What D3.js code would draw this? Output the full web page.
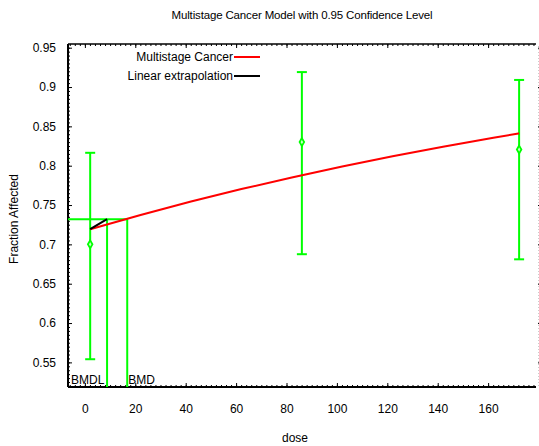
<!DOCTYPE html>
<html>
<head>
<meta charset="utf-8">
<script src="https://cdn.jsdelivr.net/npm/d3@7"></script>
<style>
  html, body { margin: 0; padding: 0; background: #fff; }
  svg { display: block; font-family: "Liberation Sans", Arial, sans-serif; }
</style>
</head>
<body>
<svg id="chart" width="539" height="446"></svg>
<script>
// Observed dose groups: mean fraction affected and 95% confidence bounds
const doses = [2.1, 86.1, 172.3];
const meanResponse = [0.70, 0.83, 0.8205];
const lowerCI = [0.554, 0.6875, 0.681];
const upperCI = [0.8164, 0.919, 0.909];

// Fitted multistage cancer curve, sampled along the dose axis
const curveDose = [2.1, 22.1, 42.1, 62.1, 82.1, 102.1, 122.1, 142.1, 162.1, 172.3];
const curveResponse = [0.7193, 0.7374, 0.7544, 0.7703, 0.7851, 0.7990, 0.8120, 0.8241, 0.8355, 0.841];

// Benchmark dose results
const bmr = 0.732;
const bmd = 16.8;
const bmdl = 8.8;
const linearDose = [2.1, 8.8];
const linearResponse = [0.7193, 0.732];

// Axis ticks
const xTicks = [0, 20, 40, 60, 80, 100, 120, 140, 160];
const yTicks = [0.55, 0.6, 0.65, 0.7, 0.75, 0.8, 0.85, 0.9, 0.95];

const legendLabels = ["Multistage Cancer", "Linear extrapolation"];
const legendColors = ["#ff0000", "#000000"];

const GREEN = "#00ff00";

const svg = d3.select("#chart");
const plotLeft = 68, plotRight = 536, plotTop = 44, plotBottom = 387;

const x = d3.scaleLinear().domain([-6.7, 179]).range([plotLeft, plotRight]);
const y = d3.scaleLinear().domain([0.5187, 0.9547]).range([plotBottom, plotTop]);

// Minor ticks on the frame
const xMinor = d3.range(-6, 179, 2);
const yMinor = d3.range(0.52, 0.955, 0.005);

function minorAxis(axis, ticks, transform) {
  svg.append("g").attr("transform", transform)
    .call(axis.tickValues(ticks).tickSize(-2).tickFormat(""))
    .call(g => g.select(".domain").remove())
    .call(g => g.selectAll("line").attr("stroke", "#000").attr("stroke-width", 1));
}
minorAxis(d3.axisBottom(x), xMinor, `translate(0,${plotBottom})`);
minorAxis(d3.axisTop(x), xMinor, `translate(0,${plotTop})`);
minorAxis(d3.axisLeft(y), yMinor, `translate(${plotLeft},0)`);

// Major axes
svg.append("g").attr("transform", `translate(0,${plotBottom})`)
  .call(d3.axisBottom(x).tickValues(xTicks).tickSize(-4).tickPadding(17).tickFormat(d3.format("d")))
  .call(g => g.select(".domain").remove())
  .call(g => g.selectAll("text").attr("font-size", 12).attr("fill", "#000")
    .attr("font-family", "Liberation Sans, Arial, sans-serif"));

svg.append("g").attr("transform", `translate(0,${plotTop})`)
  .call(d3.axisTop(x).tickValues(xTicks).tickSize(-4).tickFormat(""))
  .call(g => g.select(".domain").remove());

svg.append("g").attr("transform", `translate(${plotLeft},0)`)
  .call(d3.axisLeft(y).tickValues(yTicks).tickSize(-4).tickPadding(12).tickFormat(d => d3.format("")(+d.toFixed(2))))
  .call(g => g.select(".domain").remove())
  .call(g => g.selectAll("text").attr("font-size", 12).attr("fill", "#000")
    .attr("font-family", "Liberation Sans, Arial, sans-serif"));

// Right axis, mostly beyond the visible edge
svg.append("g").attr("transform", `translate(538,0)`)
  .call(d3.axisRight(y).tickValues(yTicks).tickSize(2).tickFormat(""))
  .call(g => g.select(".domain").attr("stroke", "#ccc").attr("stroke-dasharray", "1,2"));

// Frame
svg.append("line").attr("x1", plotLeft).attr("x2", plotRight).attr("y1", plotTop).attr("y2", plotTop)
  .attr("stroke", "#000").attr("stroke-width", 1.5);
svg.append("line").attr("x1", plotLeft).attr("x2", plotRight).attr("y1", plotBottom).attr("y2", plotBottom)
  .attr("stroke", "#000").attr("stroke-width", 2);
svg.append("line").attr("x1", plotLeft).attr("x2", plotLeft).attr("y1", plotTop).attr("y2", plotBottom)
  .attr("stroke", "#000").attr("stroke-width", 2);

// Benchmark dose guide lines
const guides = svg.append("g").attr("stroke", GREEN).attr("stroke-width", 2).attr("fill", "none");
guides.append("line").attr("x1", plotLeft).attr("x2", x(bmd)).attr("y1", y(bmr)).attr("y2", y(bmr));
guides.append("line").attr("x1", x(bmdl)).attr("x2", x(bmdl)).attr("y1", y(bmr)).attr("y2", plotBottom);
guides.append("line").attr("x1", x(bmd)).attr("x2", x(bmd)).attr("y1", y(bmr)).attr("y2", plotBottom);

// Error bars
const data = doses.map((d, i) => ({ dose: d, mean: meanResponse[i], lo: lowerCI[i], hi: upperCI[i] }));
const eb = svg.append("g").attr("stroke", GREEN).attr("stroke-width", 2);
eb.selectAll(".stem").data(data).join("line")
  .attr("x1", d => x(d.dose)).attr("x2", d => x(d.dose))
  .attr("y1", d => y(d.lo)).attr("y2", d => y(d.hi));
eb.selectAll(".capLo").data(data).join("line")
  .attr("x1", d => x(d.dose) - 5).attr("x2", d => x(d.dose) + 5)
  .attr("y1", d => y(d.lo)).attr("y2", d => y(d.lo));
eb.selectAll(".capHi").data(data).join("line")
  .attr("x1", d => x(d.dose) - 5).attr("x2", d => x(d.dose) + 5)
  .attr("y1", d => y(d.hi)).attr("y2", d => y(d.hi));

svg.append("g").selectAll("path").data(data).join("path")
  .attr("transform", d => `translate(${x(d.dose)},${y(d.mean)})`)
  .attr("d", d3.symbol(d3.symbolDiamond, 18))
  .attr("fill", "#c8ffc8").attr("stroke", GREEN).attr("stroke-width", 1.8);

// Fitted model curve
const curve = curveDose.map((d, i) => [d, curveResponse[i]]);
svg.append("path").datum(curve)
  .attr("fill", "none").attr("stroke", "#ff0000").attr("stroke-width", 2)
  .attr("d", d3.line().x(d => x(d[0])).y(d => y(d[1])).curve(d3.curveMonotoneX));

// Linear extrapolation to BMDL
const lin = linearDose.map((d, i) => [d, linearResponse[i]]);
svg.append("path").datum(lin)
  .attr("fill", "none").attr("stroke", "#000").attr("stroke-width", 2)
  .attr("d", d3.line().x(d => x(d[0])).y(d => y(d[1])));

// BMDL / BMD labels
svg.append("text").attr("x", plotLeft + 3).attr("y", plotBottom - 3)
  .attr("font-size", 12).text("BMDL");
svg.append("text").attr("x", x(bmd) + 1).attr("y", plotBottom - 3)
  .attr("font-size", 12).text("BMD");

// Legend
const legend = svg.append("g");
legendLabels.forEach((label, i) => {
  const ly = 57 + i * 19;
  legend.append("text").attr("x", 233).attr("y", ly + 4)
    .attr("text-anchor", "end").attr("font-size", 12).text(label);
  legend.append("line").attr("x1", 234).attr("x2", 260).attr("y1", ly).attr("y2", ly)
    .attr("stroke", legendColors[i]).attr("stroke-width", 2);
});

// Titles
svg.append("text").attr("x", 302).attr("y", 19).attr("text-anchor", "middle")
  .attr("font-size", 11.5).attr("letter-spacing", "-0.15").text("Multistage Cancer Model with 0.95 Confidence Level");
svg.append("text").attr("x", 295).attr("y", 442).attr("text-anchor", "middle")
  .attr("font-size", 12).text("dose");
svg.append("text").attr("transform", "translate(18,219) rotate(-90)").attr("text-anchor", "middle")
  .attr("font-size", 12).text("Fraction Affected");
</script>
</body>
</html>
